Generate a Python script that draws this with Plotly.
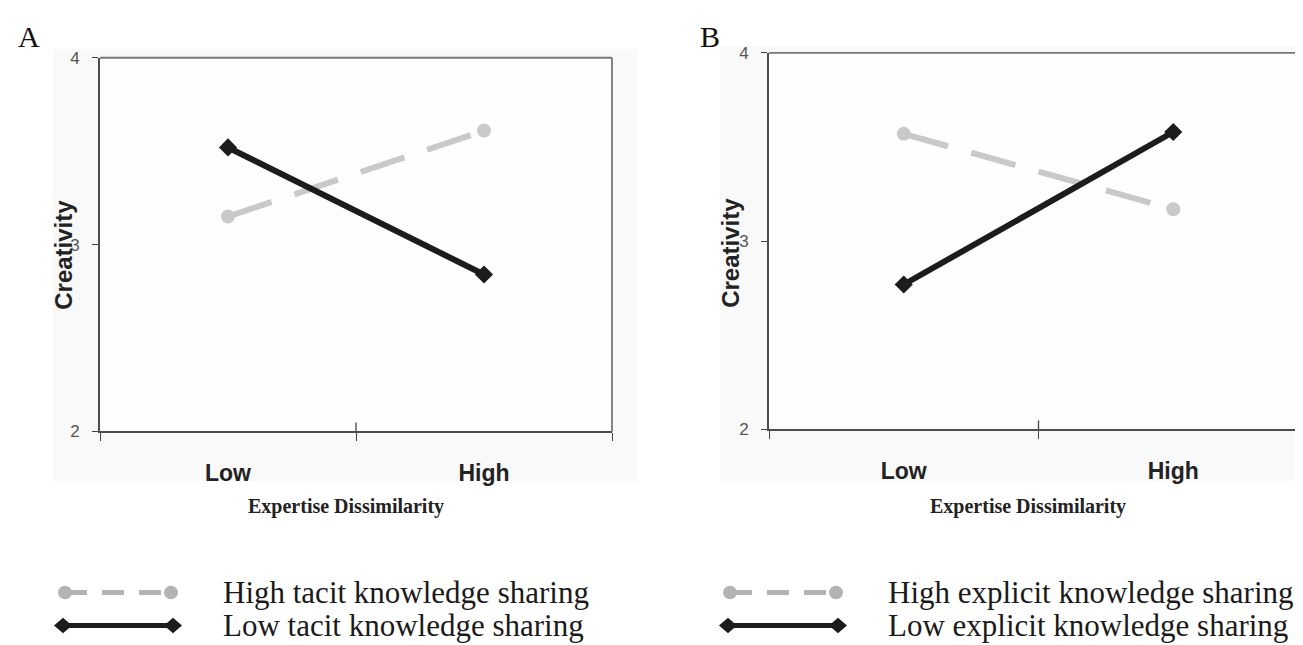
import plotly.graph_objects as go

# ---------------- data ----------------
categories = ["Low", "High"]
y_ticks = [2, 3, 4]

# Panel A (tacit knowledge sharing)
a_high_tacit = [3.15, 3.61]
a_low_tacit = [3.52, 2.84]
# Panel B (explicit knowledge sharing)
b_high_explicit = [3.57, 3.17]
b_low_explicit = [2.77, 3.58]

legend_a = ["High tacit knowledge sharing", "Low tacit knowledge sharing"]
legend_b = ["High explicit knowledge sharing", "Low explicit knowledge sharing"]
panel_labels = ["A", "B"]
x_title = "Expertise Dissimilarity"
y_title = "Creativity"

# ---------------- styles ----------------
W, H = 1303, 645
GRAY = "#c9c9c9"
GRAY_LEG = "#b3b3b3"
BLACK = "#1c1c1c"
SANS = "Liberation Sans, Arial, sans-serif"
SERIF = "Liberation Serif, Times New Roman, serif"


def px(xp):
    return xp / W


def py(yp):
    return 1 - yp / H


fig = go.Figure()

panels = [
    dict(xa="x", ya="y", high=a_high_tacit, low=a_low_tacit, names=legend_a),
    dict(xa="x2", ya="y2", high=b_high_explicit, low=b_low_explicit, names=legend_b),
]
for p in panels:
    fig.add_trace(go.Scatter(
        x=categories, y=p["high"], xaxis=p["xa"], yaxis=p["ya"], name=p["names"][0],
        mode="lines+markers",
        line=dict(color=GRAY, width=6, dash="46px,24px"),
        marker=dict(symbol="circle", size=14, color=GRAY),
        showlegend=False,
    ))
    fig.add_trace(go.Scatter(
        x=categories, y=p["low"], xaxis=p["xa"], yaxis=p["ya"], name=p["names"][1],
        mode="lines+markers",
        line=dict(color=BLACK, width=6),
        marker=dict(symbol="diamond", size=14, color=BLACK),
        showlegend=False,
    ))

xaxis_common = dict(
    type="category", categoryorder="array", categoryarray=categories,
    range=[-0.5, 1.5], tickson="boundaries", ticks="outside", ticklen=8,
    tickcolor="#444", tickwidth=1.3,
    showline=True, linecolor="#4d4d4d", linewidth=1.6, mirror=False,
    showgrid=False, zeroline=False,
    tickfont=dict(family=SANS, size=23, color="#222", weight="bold"),
    ticklabelstandoff=20,
)
yaxis_common = dict(
    range=[2, 4], tickvals=y_ticks, ticks="outside", ticklen=6,
    tickcolor="#444", tickwidth=1.3,
    showline=True, linecolor="#4d4d4d", linewidth=1.6, mirror=False,
    showgrid=False, zeroline=False,
    tickfont=dict(family=SANS, size=17, color="#555"),
    ticklabelstandoff=9,
)

fig.update_layout(
    width=W, height=H,
    margin=dict(l=0, r=0, t=0, b=0),
    paper_bgcolor="white", plot_bgcolor="#fdfdfd",
    showlegend=False,
    xaxis=dict(domain=[px(92), px(604)], anchor="y", **xaxis_common),
    yaxis=dict(domain=[py(427), py(42)], anchor="x", **yaxis_common),
    xaxis2=dict(domain=[px(761), px(1300)], anchor="y2", **xaxis_common),
    yaxis2=dict(domain=[py(425), py(37)], anchor="x2", **yaxis_common),
)

shapes = []
# faint chart-area backgrounds, then the plot areas drawn over them
shapes.append(dict(type="rect", xref="paper", yref="paper", layer="below",
                   x0=px(45), x1=px(629), y0=py(478), y1=py(33),
                   fillcolor="#f9f9f9", line=dict(width=0)))
shapes.append(dict(type="rect", xref="paper", yref="paper", layer="below",
                   x0=px(712), x1=px(1303), y0=py(478), y1=py(30),
                   fillcolor="#f9f9f9", line=dict(width=0)))
for xa, ya in (("x", "y"), ("x2", "y2")):
    shapes.append(dict(type="rect", xref=f"{xa} domain", yref=f"{ya} domain", layer="below",
                       x0=0, x1=1, y0=0, y1=1, fillcolor="#fefefe", line=dict(width=0)))
    # lighter top and right border of the plot box
    shapes.append(dict(type="line", xref=f"{xa} domain", yref=f"{ya} domain",
                       x0=0, x1=1, y0=1, y1=1, line=dict(color="#777", width=1.8)))
    shapes.append(dict(type="line", xref=f"{xa} domain", yref=f"{ya} domain",
                       x0=1, x1=1, y0=0, y1=1, line=dict(color="#777", width=1.8)))
    # middle x tick crosses the axis slightly upward
    shapes.append(dict(type="line", xref=xa, yref=f"{ya} domain",
                       x0=0.5, x1=0.5, y0=0, y1=0.024,
                       line=dict(color="#444", width=1.3)))

annotations = []
panel_geo = [
    dict(label_x=21, label_y=20, ytitle_x=56, ytitle_y=245, xtitle_x=338, leg_x0=57, text_x=213),
    dict(label_x=702, label_y=20, ytitle_x=723, ytitle_y=243, xtitle_x=1020, leg_x0=722, text_x=878),
]
legend_texts = [legend_a, legend_b]
for i, g in enumerate(panel_geo):
    annotations.append(dict(text=panel_labels[i], xref="paper", yref="paper",
                            x=px(g["label_x"]), y=py(g["label_y"]), showarrow=False,
                            xanchor="center", yanchor="middle",
                            font=dict(family=SERIF, size=30, color="#111")))
    annotations.append(dict(text=y_title, xref="paper", yref="paper", textangle=-90,
                            x=px(g["ytitle_x"]), y=py(g["ytitle_y"]), showarrow=False,
                            xanchor="center", yanchor="middle",
                            font=dict(family=SANS, size=24, color="#222", weight="bold")))
    annotations.append(dict(text=x_title, xref="paper", yref="paper",
                            x=px(g["xtitle_x"]), y=py(504), showarrow=False,
                            xanchor="center", yanchor="middle",
                            font=dict(family=SERIF, size=20, color="#222", weight="bold")))
    # legend samples
    x0 = g["leg_x0"]
    x1 = x0 + 106
    ly1, ly2 = 593, 627
    shapes.append(dict(type="line", xref="paper", yref="paper",
                       x0=px(x0), x1=px(x1), y0=py(ly1), y1=py(ly1),
                       line=dict(color=GRAY_LEG, width=5, dash="22px,15px")))
    for cx in (x0, x1):
        shapes.append(dict(type="circle", xref="paper", yref="paper",
                           x0=px(cx - 7), x1=px(cx + 7), y0=py(ly1 + 7), y1=py(ly1 - 7),
                           fillcolor=GRAY_LEG, line=dict(width=0)))
    shapes.append(dict(type="line", xref="paper", yref="paper",
                       x0=px(x0 - 2), x1=px(x1 + 2), y0=py(ly2), y1=py(ly2),
                       line=dict(color=BLACK, width=5)))
    for cx in (x0 - 2, x1 + 2):
        path = (f"M {px(cx-9)} {py(ly2)} L {px(cx)} {py(ly2-8)} "
                f"L {px(cx+9)} {py(ly2)} L {px(cx)} {py(ly2+8)} Z")
        shapes.append(dict(type="path", xref="paper", yref="paper", path=path,
                           fillcolor=BLACK, line=dict(width=0)))
    for j, t in enumerate(legend_texts[i]):
        annotations.append(dict(text=t, xref="paper", yref="paper",
                                x=px(g["text_x"]), y=py([ly1, ly2][j]), showarrow=False,
                                xanchor="left", yanchor="middle",
                                font=dict(family=SERIF, size=31, color="#1a1a1a")))

fig.update_layout(shapes=shapes, annotations=annotations)
fig.write_html("out.html")
